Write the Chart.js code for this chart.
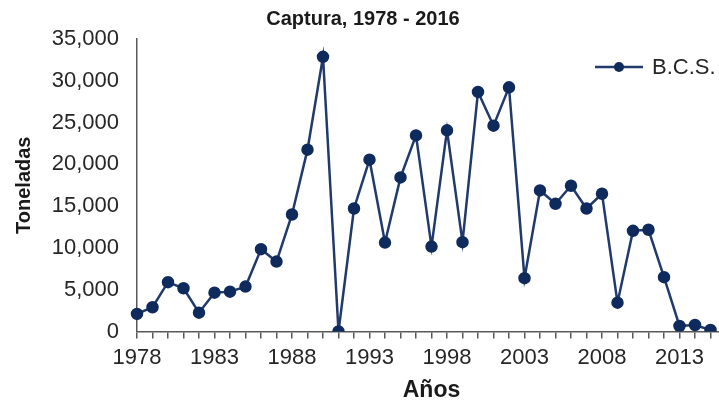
<!DOCTYPE html>
<html>
<head>
<meta charset="utf-8">
<script src="https://cdn.jsdelivr.net/npm/chart.js@4.4.0/dist/chart.umd.min.js"></script>
<style>
  html, body { margin: 0; padding: 0; background: #fff; overflow: hidden; }
  #wrap { width: 740px; height: 402px; }
</style>
</head>
<body>
<div id="wrap"><canvas id="capturaChart" width="740" height="402"></canvas></div>
<script>
// años 1978 - 2016 (2016 queda fuera del recorte)
var years = [];
for (var y = 1978; y <= 2016; y++) years.push(String(y));

// captura en toneladas, B.C.S.
var bcsValues = [
  2100, 2900, 5900, 5180, 2250, 4650, 4770, 5370, 9850, 8370,
  14000, 21760, 32870, 0, 14720, 20560, 10640, 18440, 23460, 10160,
  24070, 10690, 28670, 24630, 29220, 6380, 16880, 15280, 17440, 14720,
  16480, 3450, 12050, 12170, 6500, 660, 780, 180, null
];

var seriesName = "B.C.S.";
var titleText = "Captura, 1978 - 2016";
var yTitle = "Toneladas";
var xTitle = "Años";

var lineColor = "#203a6b";
var pointColor = "#0f2a5c";
var textColor = "#262626";

// leyenda dibujada a mano arriba a la derecha
var legendBox = {
  id: "legendBox",
  afterDraw: function (chart) {
    var c = chart.ctx;
    var ds = chart.data.datasets[0];
    c.save();
    c.strokeStyle = ds.borderColor;
    c.lineWidth = 2.5;
    c.beginPath();
    c.moveTo(595, 67);
    c.lineTo(643, 67);
    c.stroke();
    c.fillStyle = ds.pointBackgroundColor;
    c.beginPath();
    c.arc(619, 67, 5, 0, Math.PI * 2);
    c.fill();
    c.fillStyle = textColor;
    c.font = "22px 'Liberation Sans', Arial, sans-serif";
    c.textBaseline = "middle";
    c.fillText(ds.label, 652, 68);
    c.restore();
  }
};

Chart.defaults.font.family = "'Liberation Sans', Arial, sans-serif";
Chart.defaults.color = textColor;

var ctx = document.getElementById("capturaChart");

var capturaChart = new Chart(ctx, {
  type: "line",
  data: {
    labels: years,
    datasets: [
      {
        label: seriesName,
        data: bcsValues,
        borderColor: lineColor,
        backgroundColor: pointColor,
        pointBackgroundColor: pointColor,
        pointBorderColor: pointColor,
        borderWidth: 2.5,
        pointRadius: 5,
        tension: 0,
        spanGaps: false
      }
    ]
  },
  options: {
    responsive: false,
    animation: false,
    layout: { padding: { left: 0, right: 14, top: 0, bottom: 0 } },
    plugins: {
      legend: { display: false },
      tooltip: { enabled: false },
      title: {
        display: true,
        text: titleText,
        color: "#1a1a1a",
        font: { size: 20, weight: "bold" },
        padding: { top: 7, bottom: 8 }
      }
    },
    scales: {
      x: {
        offset: false,
        grid: {
          display: true,
          drawOnChartArea: false,
          drawTicks: true,
          tickLength: 7,
          color: "#595959",
          lineWidth: 1.5
        },
        border: { display: true, color: "#595959", width: 1.5 },
        ticks: {
          autoSkip: false,
          maxRotation: 0,
          padding: 6,
          font: { size: 22 },
          callback: function (val, i) {
            return i % 5 === 0 ? years[i] : "";
          }
        },
        title: {
          display: true,
          text: xTitle,
          color: "#1a1a1a",
          font: { size: 23, weight: "bold" },
          padding: { top: 0, bottom: -2 }
        },
        afterFit: function (scale) {
          scale.height = 70.5;
        }
      },
      y: {
        min: 0,
        max: 35000,
        grid: { display: false, drawTicks: false },
        border: { display: true, color: "#595959", width: 1.5 },
        ticks: {
          stepSize: 5000,
          padding: 18,
          font: { size: 22 },
          callback: function (val) {
            return val.toLocaleString("en-US");
          }
        },
        title: {
          display: true,
          text: yTitle,
          color: "#1a1a1a",
          font: { size: 20, weight: "bold" },
          padding: { top: 12, bottom: 0 }
        },
        afterFit: function (scale) {
          scale.width = 137;
        }
      }
    }
  },
  plugins: [legendBox]
});
</script>
</body>
</html>
